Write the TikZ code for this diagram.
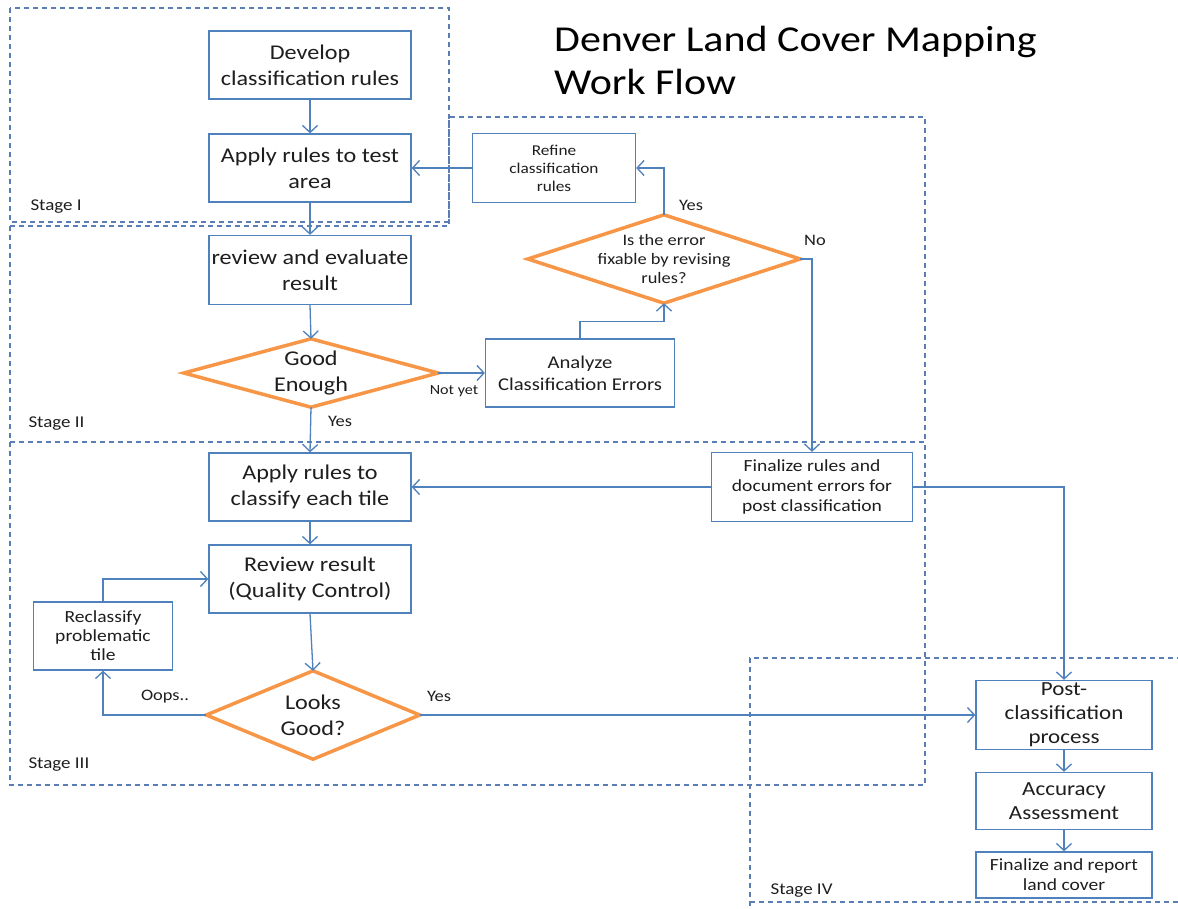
\documentclass[tikz,border=0pt]{standalone}
\usepackage{fontspec}
\setmainfont{Carlito}[FakeStretch=1.15]
\usetikzlibrary{arrows.meta}
\definecolor{bblue}{RGB}{79,129,189}
\definecolor{dblue}{RGB}{90,125,180}
\definecolor{orng}{RGB}{247,150,70}
\definecolor{txt}{RGB}{30,30,30}
\tikzset{
  box/.style={draw=bblue, line width=1.3pt, fill=white, align=center, text=txt, inner sep=2pt},
  bigtxt/.style={font=\fontsize{21}{26}\selectfont},
  midtxt/.style={font=\fontsize{18}{22}\selectfont},
  smltxt/.style={font=\fontsize{16}{19}\selectfont},
  dtext/.style={align=center, text=txt, inner sep=0pt},
  dia/.style={draw=orng, line width=3.5pt, line join=miter},
  arr/.style={draw=bblue, line width=1.3pt, -{Straight Barb[length=7pt,width=15pt,line width=1.3pt]}},
  stagebox/.style={draw=dblue, line width=1.1pt, dashed, dash pattern=on 5pt off 4pt},
  stagelbl/.style={anchor=base west, text=txt, font=\fontsize{16.5}{19}\selectfont},
  lbl/.style={text=txt, font=\fontsize{16}{19}\selectfont, inner sep=0pt}
}
\begin{document}
\begin{tikzpicture}[x=1pt,y=-1pt]
\useasboundingbox (0,0) rectangle (1178,909);
\fill[white] (0,0) rectangle (1178,909);
% stage frames
\draw[stagebox] (10,226) -- (449,226) -- (449,117) -- (925,117) -- (925,442) -- (10,442) -- cycle;
\draw[stagebox] (10,8) rectangle (449,222);
\draw[stagebox] (10,442) rectangle (925,785);
\draw[stagebox] (1182,658) -- (750,658) -- (750,912);
\draw[stagebox] (750,902) -- (1182,902);
\node[stagelbl] (s1) at (27,211) {Stage I};
\node[stagelbl] (s2) at (25,427) {Stage II};
\node[stagelbl] (s3) at (25,768) {Stage III};
\node[stagelbl] (s4) at (767,894) {Stage IV};
% title
\node[anchor=base west, text=black, font=\fontsize{36.5}{44}\selectfont, inner sep=0pt] (t1) at (554,52) {Denver Land Cover Mapping};
\node[anchor=base west, text=black, font=\fontsize{36.5}{44}\selectfont, inner sep=0pt] (t2) at (554,95) {Work Flow};
% boxes
\node[box, bigtxt, minimum width=202pt, minimum height=68pt] (dev) at (310,65) {Develop\\classification rules};
\node[box, bigtxt, minimum width=202pt, minimum height=68pt] (app) at (310,168) {Apply rules to test\\area};
\node[box, bigtxt, minimum width=202pt, minimum height=69pt] (rev) at (310,270) {review and evaluate\\result};
\node[box, font=\fontsize{15}{18}\selectfont, minimum width=163pt, minimum height=69pt] (ref) at (554,168) {Refine\\classification\\rules};
\node[box, midtxt, minimum width=189pt, minimum height=68pt] (ana) at (580,373) {Analyze\\Classification Errors};
\node[box, font=\fontsize{17}{20}\selectfont, minimum width=201pt, minimum height=69pt] (fin) at (812,487) {Finalize rules and\\document errors for\\post classification};
\node[box, bigtxt, minimum width=202pt, minimum height=68pt] (acl) at (310,487) {Apply rules to\\classify each tile};
\node[box, bigtxt, minimum width=202pt, minimum height=68pt] (rr) at (310,579) {Review result\\(Quality Control)};
\node[box, font=\fontsize{17}{19}\selectfont, minimum width=139pt, minimum height=68pt] (rec) at (103,636) {Reclassify\\problematic\\tile};
\node[box, font=\fontsize{20}{24}\selectfont, minimum width=176pt, minimum height=69pt] (post) at (1064,715) {Post-\\classification\\process};
\node[box, font=\fontsize{20}{24}\selectfont, minimum width=176pt, minimum height=57pt] (acc) at (1064,801) {Accuracy\\Assessment};
\node[box, font=\fontsize{17}{20}\selectfont, minimum width=176pt, minimum height=46pt] (frep) at (1064,875) {Finalize and report\\land cover};
% diamonds
\node[dtext, bigtxt, minimum width=254pt, minimum height=68pt] (ge) at (311,373) {Good\\Enough};
\draw[dia] (ge.west) -- (ge.north) -- (ge.east) -- (ge.south) -- cycle;
\node[dtext, smltxt, minimum width=272pt, minimum height=88pt] (fix) at (664,259) {Is the error\\fixable by revising\\rules?};
\draw[dia] (fix.west) -- (fix.north) -- (fix.east) -- (fix.south) -- cycle;
\node[dtext, bigtxt, minimum width=213pt, minimum height=88pt] (lg) at (313,715) {Looks\\Good?};
\draw[dia] (lg.west) -- (lg.north) -- (lg.east) -- (lg.south) -- cycle;
% connectors
\draw[arr] (dev) -- (app);
\draw[arr] (app) -- (rev);
\draw[arr] (rev.south) -- (ge.north);
\draw[arr] (ge.south) -- (acl.north);
\draw[arr] (ge.east) -- (ana.west);
\draw[arr] (ana.north) -- ++(0,-17) -| (fix.south);
\draw[arr] (fix.north) |- (ref.east);
\draw[arr] (ref.west) -- (app.east);
\draw[arr] (fix.east) -| (fin.north);
\draw[arr] (fin.west) -- (acl.east);
\draw[arr] (fin.east) -| (post.north);
\draw[arr] (acl) -- (rr);
\draw[arr] (rr.south) -- (lg.north);
\draw[arr] (lg.west) -| (rec.south);
\draw[arr] (rec.north) |- (rr.west);
\draw[arr] (lg.east) -- (post.west);
\draw[arr] (post) -- (acc);
\draw[arr] (acc) -- (frep);
% labels
\node[lbl] (l1) at (340,421) {Yes};
\node[lbl, font=\fontsize{14}{17}\selectfont] (l2) at (454,391) {Not yet};
\node[lbl] (l3) at (691,205) {Yes};
\node[lbl] (l4) at (815,240) {No};
\node[lbl] (l5) at (165,697) {Oops..};
\node[lbl] (l6) at (439,696) {Yes};
\end{tikzpicture}
\end{document}
